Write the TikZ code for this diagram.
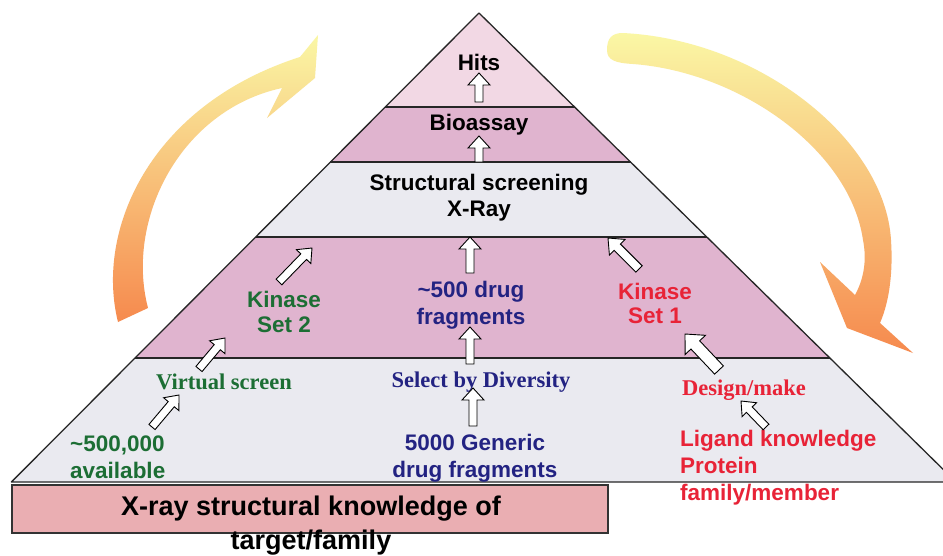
\documentclass[tikz,border=0pt]{standalone}
\usepackage{fontspec}
\setmainfont{Liberation Sans}
\newfontfamily\serfont{Liberation Serif}
\usetikzlibrary{calc}
\definecolor{pinkTop}{RGB}{242,216,228}
\definecolor{pinkBand}{RGB}{224,180,207}
\definecolor{greyBand}{RGB}{234,234,240}
\definecolor{salmonBox}{RGB}{234,174,178}
\definecolor{kgreen}{RGB}{28,110,52}
\definecolor{knavy}{RGB}{35,35,130}
\definecolor{kred}{RGB}{232,35,55}
\definecolor{arrY}{RGB}{250,247,165}
\definecolor{arrO}{RGB}{246,138,78}
\tikzset{
  blockarrow/.style={draw=black, fill=white, line width=0.9pt, line join=miter},
  lab/.style={font=\fontsize{22.5}{26}\selectfont\bfseries, inner sep=0pt, align=center},
  ser/.style={font=\serfont\fontsize{22.5}{26}\selectfont\bfseries, inner sep=0pt},
  bandline/.style={draw=black!85, line width=1.3pt, line join=round},
}
\newcommand\blockarr[5]{%
  \path[blockarrow] let \p1=(#1), \p2=(#2), \n1={atan2(\y2-\y1,\x2-\x1)}, \n2={veclen(\x2-\x1,\y2-\y1)} in
  {[shift={(\p1)}, rotate=\n1] (0,-#4) -- (\n2-#5,-#4) -- (\n2-#5,-#3) -- (\n2,0) -- (\n2-#5,#3) -- (\n2-#5,#4) -- (0,#4) -- cycle};}
\begin{document}
\begin{tikzpicture}[x=1pt,y=-1pt]
\useasboundingbox (0,0) rectangle (943,555);
\fill[white] (0,0) rectangle (943,555);
% curved arrows
\shade[top color=arrY, bottom color=arrO] (118,322) .. controls (95,230) and (150,105) .. (300,57) -- (318,35) -- (315,78) -- (267,118) -- (282,88) .. controls (180,110) and (125,220) .. (148,308) -- cycle;
\shade[top color=arrY, bottom color=arrO] (607,50) .. controls (607,38) and (612,33) .. (623,33) .. controls (760,40) and (885,140) .. (891,240) .. controls (893,270) and (890,300) .. (880,323) -- (913,353) -- (847,328) -- (820,262) -- (855,295) .. controls (866,275) and (866,255) .. (863,240) .. controls (850,150) and (740,72) .. (633,64) .. controls (615,63) and (607,60) .. (607,50) -- cycle;
% pyramid coordinates
\coordinate (ap) at (479,13);
\coordinate (l1) at (385.3,107); \coordinate (r1) at (574.6,107);
\coordinate (l2) at (330.4,162); \coordinate (r2) at (630.5,162);
\coordinate (l3) at (255.7,237); \coordinate (r3) at (706.8,237);
\coordinate (l4) at (135,358);   \coordinate (r4) at (830,358);
\coordinate (l5) at (11.4,482);  \coordinate (r5) at (956,482);
\fill[pinkTop] (ap) -- (r1) -- (l1) -- cycle;
\fill[pinkBand] (l1) -- (r1) -- (r2) -- (l2) -- cycle;
\fill[greyBand] (l2) -- (r2) -- (r3) -- (l3) -- cycle;
\fill[pinkBand] (l3) -- (r3) -- (r4) -- (l4) -- cycle;
\fill[greyBand] (l4) -- (r4) -- (r5) -- (l5) -- cycle;
\draw[bandline] (ap) -- (r5) -- (l5) -- cycle;
\draw[bandline] (l1) -- (r1);
\draw[bandline] (l2) -- (r2);
\draw[bandline] (l3) -- (r3);
\draw[bandline] (l4) -- (r4);
% bottom box
\draw[fill=salmonBox, draw=black!80, line width=1.3pt] (12,485) rectangle (608,533);
% texts
\node[lab] (hits) at (479,62) {Hits};
\node[lab] (bio) at (479,125) {Bioassay};
\node[lab] (struct) at (479,198) {Structural screening\\X-Ray};
\node[lab, text=kgreen, font=\fontsize{22.5}{25}\selectfont\bfseries] (k2) at (284,312) {Kinase\\Set 2};
\node[lab, text=knavy, font=\fontsize{22.5}{27}\selectfont\bfseries] (frag) at (471,305) {\textasciitilde500 drug\\fragments};
\node[lab, text=kred, font=\fontsize{22.5}{24}\selectfont\bfseries] (k1) at (655,303) {Kinase\\Set 1};
\node[ser, text=kgreen] (vs) at (224,382) {Virtual screen};
\node[ser, text=knavy] (sd) at (481,382) {Select by Diversity};
\node[ser, text=kred] (dm) at (744,390) {Design/make};
\node[lab, text=kgreen, align=left, anchor=west, font=\fontsize{22.5}{27}\selectfont\bfseries] (avail) at (70,457) {\textasciitilde500,000\\available};
\node[lab, text=knavy, font=\fontsize{22.5}{27}\selectfont\bfseries] (gen) at (475,458) {5000 Generic\\drug fragments};
\node[lab, text=kred, align=left, anchor=west, font=\fontsize{22.5}{27}\selectfont\bfseries] (lig) at (680,468) {Ligand knowledge\\Protein\\family/member};
\node[lab, font=\fontsize{27}{34}\selectfont\bfseries] (xr) at (311,526) {X-ray structural knowledge of\\target/family};
% hollow arrows
\coordinate (a1t) at (479,102); \coordinate (a1h) at (479,73);
\coordinate (a2t) at (479,162); \coordinate (a2h) at (479,136);
\coordinate (a3t) at (470,273); \coordinate (a3h) at (470,237);
\coordinate (a4t) at (470,364); \coordinate (a4h) at (470,327);
\coordinate (a5t) at (473,426); \coordinate (a5h) at (473,388);
\coordinate (a6t) at (279,282); \coordinate (a6h) at (312,248);
\coordinate (a7t) at (199,369); \coordinate (a7h) at (225,338);
\coordinate (a8t) at (152,427); \coordinate (a8h) at (179,395);
\coordinate (a9t) at (639,269); \coordinate (a9h) at (608,238);
\coordinate (a10t) at (719,370); \coordinate (a10h) at (685,334);
\coordinate (a11t) at (766,427); \coordinate (a11h) at (741,401);
\blockarr{a1t}{a1h}{11}{4}{12}
\blockarr{a2t}{a2h}{11}{4}{12}
\blockarr{a3t}{a3h}{11}{4}{12}
\blockarr{a4t}{a4h}{11}{4}{12}
\blockarr{a5t}{a5h}{11}{4}{12}
\blockarr{a6t}{a6h}{10}{4}{12}
\blockarr{a7t}{a7h}{10}{4}{12}
\blockarr{a8t}{a8h}{10}{4}{12}
\blockarr{a9t}{a9h}{11}{4.5}{13}
\blockarr{a10t}{a10h}{14}{6}{15}
\blockarr{a11t}{a11h}{10}{4}{12}
\end{tikzpicture}
\end{document}
